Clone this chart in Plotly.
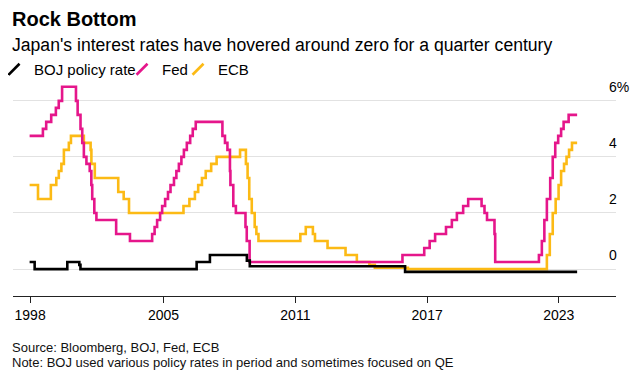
import plotly.graph_objects as go

# ---------------- data ----------------
fed_dates = ["1998-11-20", "1999-06-30", "1999-08-24", "1999-11-16", "2000-02-02", "2000-03-21",
             "2000-05-16", "2001-01-03", "2001-01-31", "2001-03-20", "2001-04-18", "2001-05-15",
             "2001-06-27", "2001-08-21", "2001-09-17", "2001-10-02", "2001-11-06", "2001-12-11",
             "2002-11-06", "2003-06-25", "2004-06-30", "2004-08-10", "2004-09-21", "2004-11-10",
             "2004-12-14", "2005-02-02", "2005-03-22", "2005-05-03", "2005-06-30", "2005-08-09",
             "2005-09-20", "2005-11-01", "2005-12-13", "2006-01-31", "2006-03-28", "2006-05-10",
             "2006-06-29", "2007-09-18", "2007-10-31", "2007-12-11", "2008-01-22", "2008-01-30",
             "2008-03-18", "2008-04-30", "2008-10-08", "2008-10-29", "2008-12-16", "2015-12-16",
             "2016-12-14", "2017-03-15", "2017-06-14", "2017-12-13", "2018-03-21", "2018-06-13",
             "2018-09-26", "2018-12-19", "2019-07-31", "2019-09-18", "2019-10-30", "2020-03-03",
             "2020-03-15", "2022-03-16", "2022-05-04", "2022-06-15", "2022-07-27", "2022-09-21",
             "2022-11-02", "2022-12-14", "2023-02-01", "2023-03-22", "2023-05-03", "2023-07-26",
             "2023-12-15"]
fed_rate = [4.75, 5.00, 5.25, 5.50, 5.75, 6.00,
            6.50, 6.00, 5.50, 5.00, 4.50, 4.00,
            3.75, 3.50, 3.00, 2.50, 2.00, 1.75,
            1.25, 1.00, 1.25, 1.50, 1.75, 2.00,
            2.25, 2.50, 2.75, 3.00, 3.25, 3.50,
            3.75, 4.00, 4.25, 4.50, 4.75, 5.00,
            5.25, 4.75, 4.50, 4.25, 3.50, 3.00,
            2.25, 2.00, 1.50, 1.00, 0.25, 0.50,
            0.75, 1.00, 1.25, 1.50, 1.75, 2.00,
            2.25, 2.50, 2.25, 2.00, 1.75, 1.25,
            0.25, 0.50, 1.00, 1.75, 2.50, 3.25,
            4.00, 4.50, 4.75, 5.00, 5.25, 5.50,
            5.50]

ecb_dates = ["1998-11-20", "1999-04-09", "1999-11-10", "2000-02-09", "2000-03-22", "2000-05-04",
             "2000-06-15", "2000-09-06", "2000-10-11", "2001-05-15", "2001-09-05", "2001-09-18",
             "2001-11-14", "2002-12-11", "2003-03-12", "2003-06-09", "2005-12-06", "2006-03-15",
             "2006-06-15", "2006-08-09", "2006-10-11", "2006-12-13", "2007-03-14", "2007-06-13",
             "2008-07-09", "2008-10-15", "2008-11-12", "2008-12-10", "2009-01-21", "2009-03-11",
             "2009-04-08", "2009-05-13", "2011-04-13", "2011-07-13", "2011-11-09", "2011-12-14",
             "2012-07-11", "2013-05-08", "2013-11-13", "2014-06-11", "2014-09-10", "2016-03-16",
             "2022-07-27", "2022-09-14", "2022-11-02", "2022-12-21", "2023-02-08", "2023-03-22",
             "2023-05-10", "2023-06-21", "2023-08-02", "2023-09-20", "2023-12-15"]
ecb_rate = [3.00, 2.50, 3.00, 3.25, 3.50, 3.75,
            4.25, 4.50, 4.75, 4.50, 4.25, 3.75,
            3.25, 2.75, 2.50, 2.00, 2.25, 2.50,
            2.75, 3.00, 3.25, 3.50, 3.75, 4.00,
            4.25, 3.75, 3.25, 2.50, 2.00, 1.50,
            1.25, 1.00, 1.25, 1.50, 1.25, 1.00,
            0.75, 0.50, 0.25, 0.15, 0.05, 0.00,
            0.50, 1.25, 2.00, 2.50, 3.00, 3.50,
            3.75, 4.00, 4.25, 4.50, 4.50]

boj_dates = ["1998-11-20", "1999-02-12", "2000-08-11", "2001-02-28", "2001-03-19", "2006-07-14",
             "2007-02-21", "2008-10-31", "2008-12-19", "2016-01-29", "2023-12-15"]
boj_rate = [0.25, 0.00, 0.25, 0.15, 0.00, 0.25,
            0.50, 0.30, 0.10, -0.10, -0.10]

series_names = ["BOJ policy rate", "Fed", "ECB"]

x_tick_vals = ["1998-11-28", "2005-01-07", "2011-01-20", "2017-02-01", "2023-02-10"]
x_tick_text = ["1998", "2005", "2011", "2017", "2023"]
y_tick_vals = [0, 2, 4, 6]
y_tick_text = ["0", "2", "4", "6%"]

title = "Rock Bottom"
subtitle = "Japan's interest rates have hovered around zero for a quarter century"
source = "Source: Bloomberg, BOJ, Fed, ECB"
note = "Note: BOJ used various policy rates in period and sometimes focused on QE"

# ---------------- style ----------------
COL = {"BOJ policy rate": "#000000", "Fed": "#E5168B", "ECB": "#FCBA15"}
FONT = "Liberation Sans, Arial, sans-serif"

fig = go.Figure()

data = {"BOJ policy rate": (boj_dates, boj_rate),
        "Fed": (fed_dates, fed_rate),
        "ECB": (ecb_dates, ecb_rate)}

for name in ["ECB", "Fed", "BOJ policy rate"]:
    xs, ys = data[name]
    fig.add_trace(go.Scatter(x=xs, y=ys, mode="lines", line_shape="hv",
                             line=dict(color=COL[name], width=2.6),
                             showlegend=False, hoverinfo="skip"))

legend_widths = {"BOJ policy rate": 83, "Fed": 11, "ECB": None}
for name in series_names:
    kw = {}
    if legend_widths[name] is not None:
        kw["legendwidth"] = legend_widths[name]
    fig.add_trace(go.Scatter(x=[None], y=[None], mode="markers", name=name,
                             marker=dict(symbol="line-ne", size=11,
                                         line=dict(color=COL[name], width=2.6)),
                             showlegend=True, **kw))

# page offset (browser body margin) compensation
OFF = 8
W, H = 639, 380
# plot area in page pixels
PL, PR, PT, PB = 13, 616, 84, 296
L = PL - OFF
R = W - (PR - OFF)
T = PT - OFF
B = H - (PB - OFF)
ph = PB - PT
pw = PR - PL

def py(Y):
    return (PB - Y) / ph

def px(X):
    return (X - PL) / pw

fig.update_layout(
    width=W, height=H,
    margin=dict(l=L, r=R, t=T, b=B, pad=0, autoexpand=False),
    paper_bgcolor="white", plot_bgcolor="white",
    font=dict(family=FONT, color="#000000", size=14),
    showlegend=True,
    legend=dict(orientation="h", x=px(-6), xanchor="left", y=py(69.5), yanchor="middle",
                font=dict(size=15, family=FONT, color="#000000"),
                bgcolor="rgba(0,0,0,0)", borderwidth=0, itemwidth=30,
                traceorder="normal"),
    xaxis=dict(type="date", range=["1998-02-15", "2025-09-25"],
               tickvals=x_tick_vals, ticktext=x_tick_text,
               showgrid=False, zeroline=False,
               showline=True, linecolor="#222222", linewidth=1,
               ticks="outside", ticklen=6, tickwidth=1, tickcolor="#222222",
               tickfont=dict(size=14, family=FONT, color="#000000")),
    yaxis=dict(range=[-0.96, 6.6], side="right",
               tickvals=y_tick_vals, ticktext=y_tick_text,
               showgrid=True, gridcolor="#E2E2E2", gridwidth=1,
               zeroline=False, showline=False, ticks="",
               ticklabelposition="outside top", ticklabelstandoff=-8,
               ticklabelshift=-4,
               tickfont=dict(size=14, family=FONT, color="#000000")),
    annotations=[
        dict(text="<b>" + title + "</b>", xref="paper", yref="paper", x=px(10), y=py(18.5),
             xanchor="left", yanchor="middle", showarrow=False,
             font=dict(size=20, family=FONT, color="#000000")),
        dict(text=subtitle, xref="paper", yref="paper", x=px(10), y=py(45),
             xanchor="left", yanchor="middle", showarrow=False,
             font=dict(size=17.6, family=FONT, color="#000000")),
        dict(text=source, xref="paper", yref="paper", x=px(10), y=py(347.3),
             xanchor="left", yanchor="middle", showarrow=False,
             font=dict(size=13, family=FONT, color="#111111")),
        dict(text=note, xref="paper", yref="paper", x=px(10), y=py(362.2),
             xanchor="left", yanchor="middle", showarrow=False,
             font=dict(size=13, family=FONT, color="#111111")),
    ],
)

fig.write_html("out.html")
